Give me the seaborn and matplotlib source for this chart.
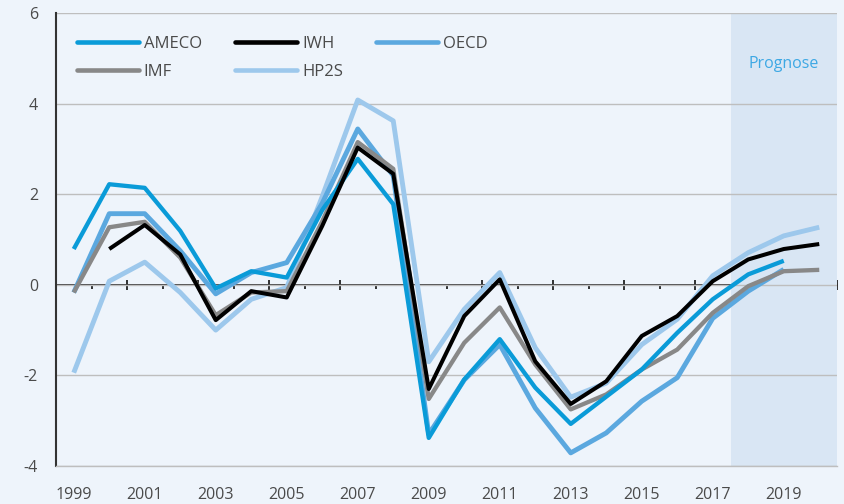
import numpy as np
import pandas as pd
import seaborn as sns
import matplotlib
matplotlib.use("Agg")
import matplotlib.pyplot as plt
from matplotlib.lines import Line2D

nan = np.nan
years = list(range(1999, 2021))
ameco = [0.79, 2.22, 2.14, 1.19, -0.08, 0.30, 0.16, 1.65, 2.78, 1.78, -3.38, -2.09, -1.20, -2.27,
         -3.07, -2.47, -1.87, -1.06, -0.32, 0.23, 0.53, nan]
iwh = [nan, 0.79, 1.32, 0.67, -0.78, -0.14, -0.28, 1.30, 3.03, 2.45, -2.30, -0.69, 0.12, -1.69,
       -2.63, -2.13, -1.13, -0.69, 0.08, 0.56, 0.79, 0.90]
oecd = [-0.17, 1.57, 1.57, 0.75, -0.20, 0.27, 0.49, 1.80, 3.44, 2.41, -3.30, -2.10, -1.32, -2.72,
        -3.71, -3.27, -2.57, -2.05, -0.74, -0.14, 0.34, nan]
imf = [-0.17, 1.27, 1.39, 0.60, -0.67, -0.17, -0.14, 1.40, 3.15, 2.56, -2.52, -1.28, -0.50, -1.76,
       -2.75, -2.42, -1.87, -1.43, -0.62, -0.03, 0.30, 0.33]
hp2s = [-1.94, 0.08, 0.50, -0.17, -1.00, -0.32, -0.06, 1.95, 4.08, 3.62, -1.70, -0.54, 0.27, -1.39,
        -2.48, -2.17, -1.32, -0.76, 0.20, 0.71, 1.08, 1.27]

series = {"AMECO": ameco, "IWH": iwh, "OECD": oecd, "IMF": imf, "HP2S": hp2s}
colors = {"AMECO": "#0A9BD8", "IWH": "#000000", "OECD": "#5BA8DF",
          "IMF": "#888888", "HP2S": "#9DC8EC"}
draw_order = ["HP2S", "OECD", "IMF", "AMECO", "IWH"]
legend_order = ["AMECO", "IMF", "IWH", "HP2S", "OECD"]
widths = {"AMECO": 3.1, "IWH": 2.9, "OECD": 3.5, "IMF": 3.1, "HP2S": 3.5}

forecast_start, forecast_end = 2017.5, 2020.5
xtick_years = list(range(1999, 2020, 2))
yticks = [-4, -2, 0, 2, 4, 6]

rows = []
for name, vals in series.items():
    for y, v in zip(years, vals):
        rows.append({"Jahr": y, "Wert": v, "Quelle": name})
df = pd.DataFrame(rows).dropna()

sns.set_theme(style="white")
plt.rcParams["font.family"] = ["Open Sans", "DejaVu Sans"]
plt.rcParams["axes.unicode_minus"] = False

bg = "#EEF4FB"
fig = plt.figure(figsize=(8.44, 5.04), dpi=100, facecolor=bg)
ax = fig.add_axes([56 / 844, 1 - 466 / 504, 781 / 844, 453 / 504])
ax.set_facecolor(bg)

ax.axvspan(forecast_start, forecast_end, color="#D9E6F4", zorder=0.1, lw=0)

sns.lineplot(data=df, x="Jahr", y="Wert", hue="Quelle", hue_order=draw_order,
             palette=colors, ax=ax, legend=False, sort=True, linewidth=3,
             solid_capstyle="butt")
for line, name in zip(ax.lines, draw_order):
    line.set_linewidth(widths[name])
    line.set_zorder(3)

ax.set_xlim(1998.5, 2020.5)
ax.set_ylim(-4, 6)
ax.set_xticks(xtick_years)
ax.set_xticklabels([str(y) for y in xtick_years])
ax.set_yticks(yticks)
ax.set_yticklabels([str(v) for v in yticks])
ax.set_xlabel("")
ax.set_ylabel("")

txtc = "#4A4A4A"
ax.tick_params(axis="x", length=0, pad=15, labelsize=11.5, labelcolor=txtc)
ax.tick_params(axis="y", direction="inout", length=10, width=1.3, color="#222222",
               pad=8, labelsize=11.5, labelcolor=txtc)

ax.set_axisbelow(True)
ax.yaxis.grid(True, color="#BEBEBE", lw=1)
ax.xaxis.grid(False)
for s in ["top", "right"]:
    ax.spines[s].set_visible(False)
ax.spines["left"].set_color("#333333")
ax.spines["left"].set_linewidth(1.5)
ax.spines["bottom"].set_color("#BEBEBE")
ax.spines["bottom"].set_linewidth(1)

# zero line with its tick marks
sec = ax.secondary_xaxis(0.4)
sec.set_xticks([y + 0.5 for y in range(2000, 2021, 2)])
sec.set_xticks([y + 0.5 for y in range(1999, 2020, 2)], minor=True)
sec.xaxis.set_ticks_position("bottom")
sec.tick_params(which="major", direction="inout", length=7.5, width=1.3, color="#222222",
                labelbottom=False, labeltop=False)
sec.tick_params(which="minor", direction="out", length=3, width=1.3, color="#222222",
                labelbottom=False, labeltop=False)
for s in sec.spines.values():
    s.set_color("#333333")
    s.set_linewidth(1.3)

handles = [Line2D([], [], color=colors[n], lw=3.3, solid_capstyle="round") for n in legend_order]
leg = ax.legend(handles, legend_order, loc="upper left", bbox_to_anchor=(0.027, 0.949),
                ncol=3, frameon=False, fontsize=12, handlelength=3.7, handletextpad=0.3,
                columnspacing=2.0, labelspacing=0.7, borderpad=0, borderaxespad=0)
for t in leg.get_texts():
    t.set_color(txtc)

ax.text(2019, 4.88, "Prognose", color="#3DA8E4", fontsize=11.5, ha="center", va="center")

fig.savefig("out.png", dpi=100, facecolor=bg)
